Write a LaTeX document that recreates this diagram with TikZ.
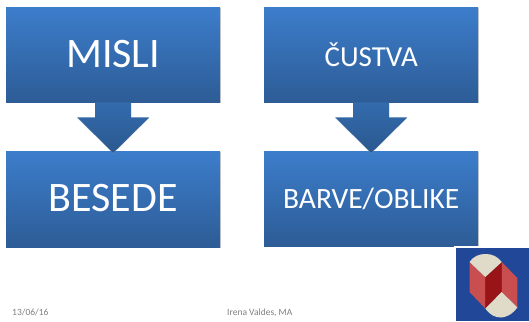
\documentclass[tikz,border=0pt]{standalone}
\usepackage{fontspec}
\setmainfont{Carlito}
\usetikzlibrary{calc}
\definecolor{boxtop}{RGB}{60,125,203}
\definecolor{boxbot}{RGB}{45,92,150}
\definecolor{arrtop}{RGB}{51,107,173}
\definecolor{arrbot}{RGB}{43,88,143}
\definecolor{logoblue}{RGB}{33,72,152}
\definecolor{logocream}{RGB}{224,218,200}
\definecolor{logored}{RGB}{200,78,80}
\definecolor{logodark}{RGB}{152,20,22}
\tikzset{
  x=1pt,y=-1pt,
  bluebox/.style={minimum width=214pt,inner sep=0pt,text=white,top color=boxtop,bottom color=boxbot,draw=none,
    preaction={fill=black!35,opacity=.55,transform canvas={yshift=-1pt,xshift=.3pt}}},
  blockarrow/.style={top color=arrtop,bottom color=arrbot,draw=none,
    preaction={fill=black!30,opacity=.4,transform canvas={yshift=-.7pt}}},
  foot/.style={text=black!50,font=\fontsize{9.5}{10}\selectfont,inner sep=0pt,anchor=base west}
}
\newcommand{\downarrowbetween}[2]{%
  \path[blockarrow] ($(#1.south)+(-18,0)$) -- ($(#1.south)+(18,0)$) -- ($(#1.south)+(18,15)$)
    -- ($(#1.south)+(36,15)$) -- ($(#2.north)+(0,2)$) -- ($(#1.south)+(-36,15)$) -- ($(#1.south)+(-18,15)$) -- cycle;}
\begin{document}
\begin{tikzpicture}
\useasboundingbox[fill=white] (0,0) rectangle (529,321);
\node[bluebox,minimum height=95pt,anchor=north west,font=\fontsize{42}{46}\selectfont] (misli) at (6,7) {\raisebox{2pt}{MISLI}};
\node[bluebox,minimum height=96pt,anchor=north west,font=\fontsize{42}{46}\selectfont] (besede) at (6,151) {\raisebox{2pt}{BESEDE}};
\node[bluebox,minimum height=95pt,anchor=north west,font=\fontsize{29}{32}\selectfont] (custva) at (264,7) {ČUSTVA};
\node[bluebox,minimum height=95pt,anchor=north west,font=\fontsize{29.5}{32}\selectfont] (barve) at (264,151) {BARVE/OBLIKE};
\downarrowbetween{misli}{besede}
\downarrowbetween{custva}{barve}
\node[foot] (datum) at (12,315.5) {13/06/16};
\node[foot] (avtor) at (227,315.5) {Irena Valdes, MA};
% logo
\fill[white] (454,246) rectangle (529,321);
\fill[logoblue] (455.5,247.5) rectangle (529,321);
\fill[logored] (469.5,262) -- (485.3,277) -- (485.3,308.5) -- (469.5,292) -- cycle;
\fill[logored] (501.7,262) -- (517.3,278) -- (517.3,307.5) -- (501.7,292) -- cycle;
\fill[logodark] (485.3,277) -- (501.7,262) -- (501.7,292) -- (485.3,308.5) -- cycle;
\fill[logocream] (469.5,262) .. controls (474,256) and (479,254) .. (485.5,254) .. controls (492,254) and (497,256) .. (501.7,262) -- (485.3,277) -- cycle;
\fill[logocream] (501.7,292) -- (517.3,307.5) .. controls (512,315) and (505,317.5) .. (501,317.5) .. controls (495,317.5) and (490,315) .. (485.3,308.5) -- cycle;
\end{tikzpicture}
\end{document}
